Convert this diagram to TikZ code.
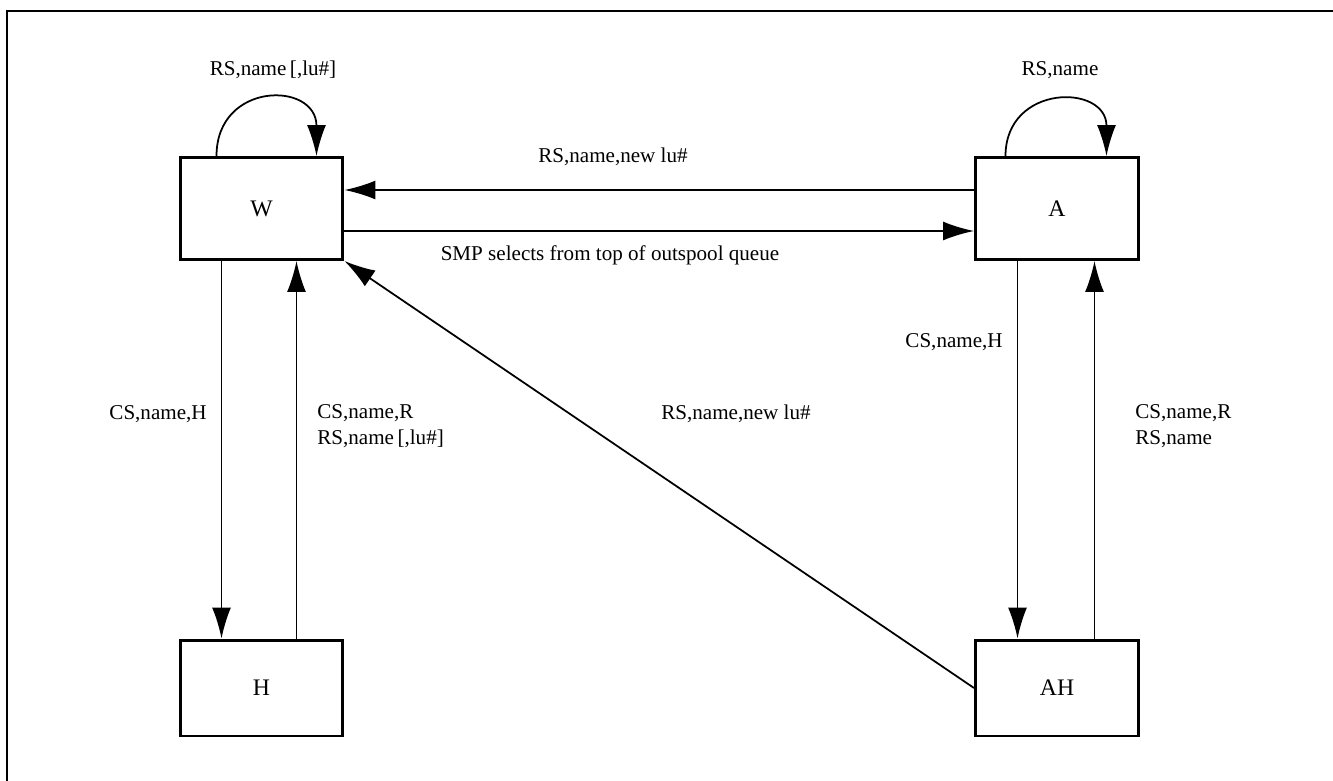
\documentclass[tikz,border=0pt]{standalone}
\usepackage{fontspec}
\setmainfont{Liberation Serif}
\usetikzlibrary{arrows.meta}

\begin{document}
\begin{tikzpicture}[x=0.02cm, y=-0.02cm, >={Latex[length=0.62cm,width=0.38cm]},
    every node/.style={align=left, font=\fontsize{12}{14.5}\selectfont},
    state/.style={draw, line width=1.7pt, minimum width=3.26cm, minimum height=2.04cm, font=\fontsize{13.5}{16}\selectfont},
    msg/.style={inner sep=0pt},
    flow/.style={->, line width=1pt}]
    \useasboundingbox (0,0) rectangle (1333,781);
    \draw[line width=1.4pt] (7,781) -- (7,11) -- (1333,11);

    \node[state] (W) at (261.5,208.5) {W};
    \node[state] (A) at (1057,208.5) {A};
    \node[state, minimum height=1.92cm] (H) at (261.5,688) {H};
    \node[state, minimum height=1.92cm] (AH) at (1057,688) {AH};

    % loops on top of W and A
    \draw[flow] ([xshift=0.76cm]W.north west) .. controls +(0,1.5cm) and +(0,1.5cm) .. ([xshift=2.76cm]W.north west);
    \draw[flow] ([xshift=0.63cm]A.north west) .. controls +(0,1.45cm) and +(0,1.45cm) .. ([xshift=2.65cm]A.north west);

    \draw[flow] ([yshift=0.37cm]A.west) -- ([yshift=0.37cm]A.west -| W.east);
    \draw[flow] ([yshift=-0.45cm]W.east) -- ([yshift=-0.45cm]W.east -| A.west);

    \draw[flow] ([xshift=0.86cm]W.south west) -- ([xshift=0.86cm]W.south west |- H.north);
    \draw[flow] ([xshift=2.36cm]H.north west) -- ([xshift=2.36cm]H.north west |- W.south);
    \draw[flow] ([xshift=0.87cm]A.south west) -- ([xshift=0.87cm]A.south west |- AH.north);
    \draw[flow] ([xshift=2.41cm]AH.north west) -- ([xshift=2.41cm]AH.north west |- A.south);
    \draw[flow] (AH.west) -- (W.south east);

    \node[msg] (loopW) at (273,70) {RS,name\,[,lu\#]};
    \node[msg] (loopA) at (1060,70) {RS,name};
    \node[msg] (back) at (613,157) {RS,name,new lu\#};
    \node[msg] (smp) at (610,255) {SMP selects from top of outspool queue};
    \node[msg, anchor=east] (holdW) at (207,414) {CS,name,H};
    \node[msg, anchor=west] (relW) at (317,426) {CS,name,R\\RS,name\,[,lu\#]};
    \node[msg] (diag) at (736,414) {RS,name,new lu\#};
    \node[msg, anchor=east] (holdA) at (1003,342) {CS,name,H};
    \node[msg, anchor=west] (relA) at (1135,426) {CS,name,R\\RS,name};
\end{tikzpicture}
\end{document}
